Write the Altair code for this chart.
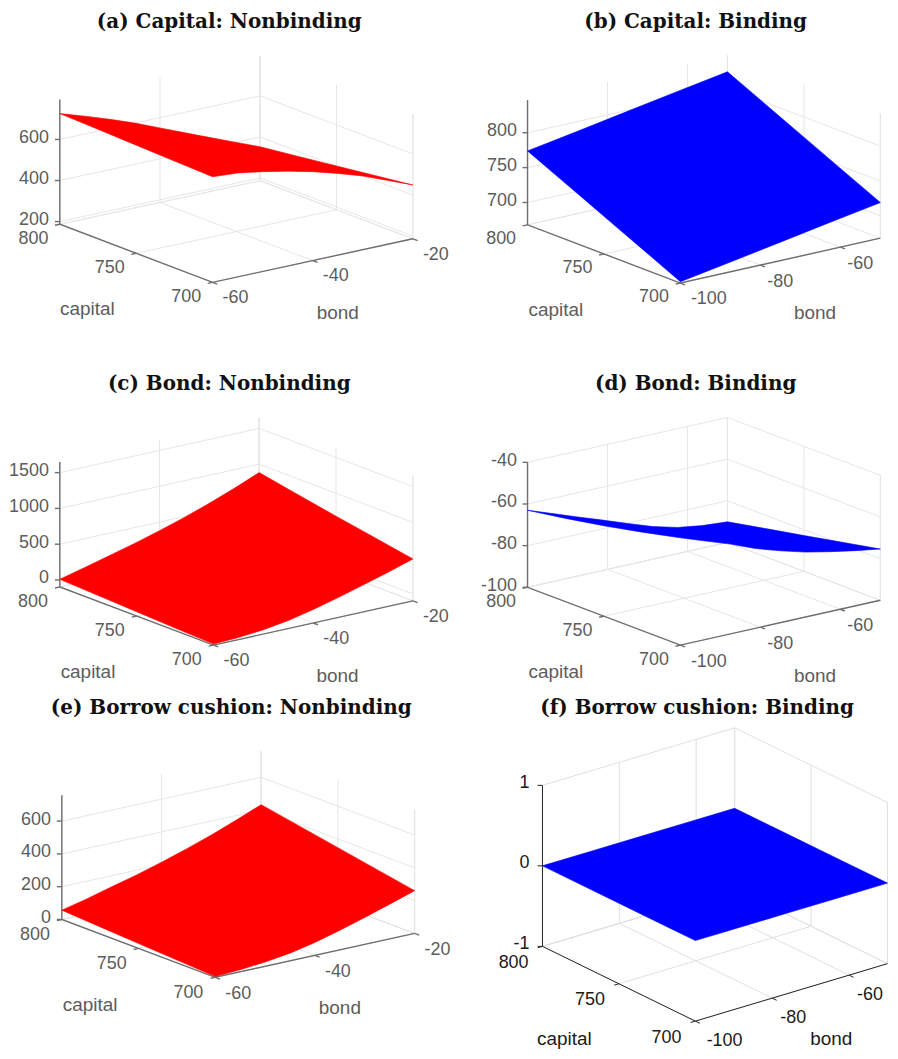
import altair as alt
import pandas as pd

CAPITAL_TICKS = [800, 750, 700]
CAPITAL_SAMPLES = [800, 775, 750, 725, 700]
BOND_A9 = [-60, -55, -50, -45, -40, -35, -30, -25, -20]
BOND_B5 = [-100, -87.5, -75, -62.5, -50]
BOND_B9 = [-100, -93.75, -87.5, -81.25, -75, -68.75, -62.5, -56.25, -50]

# surface heights along the four edges of each panel
a_cap800 = [726, 687, 645, 600, 550, 500, 450, 401, 352]
a_cap700 = [701, 693, 673, 649, 620, 585, 546, 498, 449]
a_bondlo = [726, 720, 713.5, 707, 701]
a_bondhi = [352, 376, 400, 425, 449]

b_cap800 = [774, 786, 798.5, 811, 823]
b_cap700 = [670, 682, 694.5, 707, 719]
b_bondlo = [774, 748, 722, 696, 670]
b_bondhi = [823, 797, 771, 745, 719]

c_cap800 = [9, 97, 187, 279, 379, 488, 608, 739, 882]
c_cap700 = [-83, -67, -37, 15, 91, 181, 280, 379, 488]
c_bondlo = [9, -15, -38, -62, -83]
c_bondhi = [882, 780, 680, 585, 488]

d_cap800 = [-63, -67.3, -71.6, -75.8, -80.1, -84.3, -87.4, -89.2, -90.1]
d_cap700 = [-48.5, -52.7, -56.9, -61.7, -65.5, -68.8, -71.3, -73.5, -75.4]
d_bondlo = [-63, -60, -56.6, -52.7, -48.5]
d_bondhi = [-90.1, -86.4, -82.8, -79.1, -75.4]

e_cap800 = [57, 92, 132, 171, 215, 263, 314, 372, 433]
e_cap700 = [4, 13, 26, 47, 79, 119, 164, 212, 261]
e_bondlo = [57, 43, 30, 17, 4]
e_bondhi = [433, 390, 347, 304, 261]

f_cap800 = [0, 0, 0, 0, 0]
f_cap700 = [0, 0, 0, 0, 0]
f_bondlo = [0, 0, 0, 0, 0]
f_bondhi = [0, 0, 0, 0, 0]

TITLES = ["(a) Capital: Nonbinding", "(b) Capital: Binding", "(c) Bond: Nonbinding",
          "(d) Bond: Binding", "(e) Borrow cushion: Nonbinding", "(f) Borrow cushion: Binding"]

RED, BLUE = "#ff0000", "#0000ff"
GREY_TEXT, GREY_AXIS, GREY_GRID = "#5c5c5c", "#6e6e6e", "#e6e6e6"
DARK_TEXT, DARK_AXIS, DARK_GRID = "#1a1a1a", "#262626", "#e0e0e0"

# view geometry: floor corners on the page, z scale, label offsets
PANELS = [
    dict(L=(59, 222.7), F=(212.3, 281), R=(413.3, 237.3), zf=187, zt=794, pz=0.206,
         zticks=[200, 400, 600], blo=-60, bhi=-20, bticks=[-60, -40, -20],
         bonds=BOND_A9, edges=(a_cap800, a_cap700, a_bondlo, a_bondhi), color=RED,
         cap_off=(-26.5, 15), bond_off=(23, 16), first_dx=0, zgap=11, zdy=-1.5,
         cap_name=(-49, 56), bond_name=(25, 53)),
    dict(L=(528.3, 223.3), F=(681.7, 281.7), R=(882.3, 236.7), zf=668, zt=847, pz=0.7,
         zticks=[700, 750, 800], blo=-100, bhi=-50, bticks=[-100, -80, -60],
         bonds=BOND_B5, edges=(b_cap800, b_cap700, b_bondlo, b_bondhi), color=BLUE,
         cap_off=(-26.5, 14.5), bond_off=(20, 16.5), first_dx=8.5, zgap=10.6, zdy=-1.5,
         cap_name=(-48.3, 56), bond_name=(34.7, 53)),
    dict(L=(59, 585.3), F=(213.3, 643.7), R=(413.3, 599.3), zf=-97, zt=1648, pz=0.0718,
         zticks=[0, 500, 1000, 1500], blo=-60, bhi=-20, bticks=[-60, -40, -20],
         bonds=BOND_A9, edges=(c_cap800, c_cap700, c_bondlo, c_bondhi), color=RED,
         cap_off=(-27, 15), bond_off=(23, 16.3), first_dx=0, zgap=11, zdy=-1.5,
         cap_name=(-48.9, 56.2), bond_name=(24.4, 53.5)),
    dict(L=(528.3, 585.7), F=(681.7, 643.7), R=(882.3, 598.7), zf=-100, zt=-40, pz=2.09,
         zticks=[-100, -80, -60, -40], blo=-100, bhi=-50, bticks=[-100, -80, -60],
         bonds=BOND_B9, edges=(d_cap800, d_cap700, d_bondlo, d_bondhi), color=BLUE,
         cap_off=(-26.5, 15), bond_off=(20, 16.5), first_dx=8.5, zgap=10.6, zdy=-1.5,
         cap_name=(-48.3, 56), bond_name=(34.7, 53.8)),
    dict(L=(61, 918), F=(215, 976), R=(415, 932), zf=0, zt=758, pz=0.1645,
         zticks=[0, 200, 400, 600], blo=-60, bhi=-20, bticks=[-60, -40, -20],
         bonds=BOND_A9, edges=(e_cap800, e_cap700, e_bondlo, e_bondhi), color=RED,
         cap_off=(-27, 15.3), bond_off=(23, 16.5), first_dx=0, zgap=11, zdy=-1.5,
         cap_name=(-48.7, 57), bond_name=(25, 53.3)),
    dict(L=(543.3, 945), F=(696.7, 1020), R=(889.5, 962.3), zf=-1, zt=1, pz=80.8,
         zticks=[-1, 0, 1], blo=-100, bhi=-50, bticks=[-100, -80, -60],
         bonds=BOND_B5, edges=(f_cap800, f_cap700, f_bondlo, f_bondhi), color=BLUE,
         cap_off=(-29, 16.5), bond_off=(21, 20), first_dx=8.3, zgap=13, zdy=-2.5,
         cap_name=(-54.7, 55), bond_name=(40, 47), dark=True),
]

COL_X = [(8, 452), (452, 890)]
ROW_Y = [(29.5, 372.7), (392.2, 696.7), (716.2, 1046)]
TITLE_DX = [-1, 26, -1, 26, 1, 27.5]


def panel_chart(idx, p):
    cmax, cmin = 800, 700
    blo, bhi = p["blo"], p["bhi"]
    L, F, R = p["L"], p["F"], p["R"]

    def proj(c, b, z):
        u = (cmax - c) / (cmax - cmin)
        v = (b - blo) / (bhi - blo)
        x = L[0] + u * (F[0] - L[0]) + v * (R[0] - F[0])
        y = L[1] + u * (F[1] - L[1]) + v * (R[1] - F[1]) - (z - p["zf"]) * p["pz"]
        return x, y

    zf, zt = p["zf"], p["zt"]
    grid, axis = [], []

    def seg(store, pts):
        sid = len(store)
        for i, pt in enumerate(pts):
            x, y = proj(*pt)
            store.append(dict(x=x, y=y, seg=f"{idx}-{sid}", i=i))

    # floor and wall grid
    seg(grid, [(cmax, blo, zf), (cmax, bhi, zf), (cmin, bhi, zf)])
    seg(grid, [(cmax, bhi, zf), (cmax, bhi, zt)])
    seg(grid, [(cmin, bhi, zf), (cmin, bhi, zt)])
    for z in p["zticks"]:
        seg(grid, [(cmax, blo, z), (cmax, bhi, z), (cmin, bhi, z)])
    for b in p["bticks"]:
        seg(grid, [(cmin, b, zf), (cmax, b, zf), (cmax, b, zt)])
    for c in CAPITAL_TICKS:
        seg(grid, [(c, blo, zf), (c, bhi, zf), (c, bhi, zt)])

    # dark axes with ticks
    seg(axis, [(cmax, blo, zt), (cmax, blo, zf), (cmin, blo, zf), (cmin, bhi, zf)])
    du = (F[0] - L[0], F[1] - L[1])
    dv = (R[0] - F[0], R[1] - F[1])
    ulen = (du[0] ** 2 + du[1] ** 2) ** 0.5
    vlen = (dv[0] ** 2 + dv[1] ** 2) ** 0.5
    tick = 5
    for c in CAPITAL_TICKS:
        seg(axis, [(c, blo, zf), (c, blo - tick / vlen * (bhi - blo), zf)])
    for b in p["bticks"]:
        seg(axis, [(cmin, b, zf), (cmin - tick / ulen * (cmax - cmin), b, zf)])
    for z in p["zticks"]:
        x, y = proj(cmax, blo, z)
        axis.append(dict(x=x, y=y, seg=f"{idx}-z{z}", i=0))
        axis.append(dict(x=x - tick, y=y, seg=f"{idx}-z{z}", i=1))

    # surface outline
    z_c800, z_c700, z_blo, z_bhi = p["edges"]
    outline = []
    outline += [(cmax, b, z) for b, z in zip(p["bonds"], z_c800)]
    outline += [(c, bhi, z) for c, z in zip(CAPITAL_SAMPLES, z_bhi)]
    outline += [(cmin, b, z) for b, z in reversed(list(zip(p["bonds"], z_c700)))]
    outline += [(c, blo, z) for c, z in reversed(list(zip(CAPITAL_SAMPLES, z_blo)))]
    surf = []
    for i, pt in enumerate(outline):
        x, y = proj(*pt)
        surf.append(dict(x=x, y=y, i=i))

    # tick labels
    labels = []
    for z in p["zticks"]:
        x, y = proj(cmax, blo, z)
        labels.append(dict(x=x - p["zgap"], y=y + p["zdy"], t=str(z)))
    zlab = pd.DataFrame(labels)
    labels = []
    for c in CAPITAL_TICKS:
        x, y = proj(c, blo, zf)
        labels.append(dict(x=x + p["cap_off"][0], y=y + p["cap_off"][1], t=str(c)))
    for k, b in enumerate(p["bticks"]):
        x, y = proj(cmin, b, zf)
        extra = p["first_dx"] if k == 0 else 0
        labels.append(dict(x=x + p["bond_off"][0] + extra, y=y + p["bond_off"][1], t=str(b)))
    tlab = pd.DataFrame(labels)
    mx, my = proj(750, blo, zf)
    bx, by = proj(cmin, (blo + bhi) / 2, zf)
    names = pd.DataFrame([
        dict(x=mx + p["cap_name"][0], y=my + p["cap_name"][1], t="capital"),
        dict(x=bx + p["bond_name"][0], y=by + p["bond_name"][1], t="bond"),
    ])

    col, row = idx % 2, idx // 2
    x0, x1 = COL_X[col]
    y0, y1 = ROW_Y[row]
    X = alt.X("x:Q", axis=None, scale=alt.Scale(domain=[x0, x1], nice=False, zero=False))
    Y = alt.Y("y:Q", axis=None, scale=alt.Scale(domain=[y1, y0], nice=False, zero=False))

    dark = p.get("dark", False)
    grid_c = DARK_GRID if dark else GREY_GRID
    axis_c = DARK_AXIS if dark else GREY_AXIS
    text_c = DARK_TEXT if dark else GREY_TEXT
    axis_w = 1.0 if dark else 1.4
    font = "Liberation Sans"

    layers = [
        alt.Chart(pd.DataFrame(grid)).mark_line(color=grid_c, strokeWidth=1).encode(
            x=X, y=Y, detail="seg:N", order="i:Q"),
        alt.Chart(pd.DataFrame(axis)).mark_line(color=axis_c, strokeWidth=axis_w).encode(
            x=X, y=Y, detail="seg:N", order="i:Q"),
        alt.Chart(pd.DataFrame(surf)).mark_line(
            fill=p["color"], stroke=p["color"], strokeWidth=0.6, strokeJoin="round").encode(
            x=X, y=Y, order="i:Q"),
        alt.Chart(zlab).mark_text(font=font, fontSize=18, color=text_c, align="right",
                                  baseline="middle").encode(x=X, y=Y, text="t:N"),
        alt.Chart(tlab).mark_text(font=font, fontSize=18, color=text_c, align="center",
                                  baseline="middle").encode(x=X, y=Y, text="t:N"),
        alt.Chart(names).mark_text(font=font, fontSize=19, color=text_c, align="center",
                                   baseline="middle").encode(x=X, y=Y, text="t:N"),
    ]
    return alt.layer(*layers).properties(
        width=x1 - x0,
        height=y1 - y0,
        title=alt.TitleParams(
            TITLES[idx], font="DejaVu Serif", fontWeight="bold", fontSize=20, color="#111111",
            anchor="middle", dx=TITLE_DX[idx], offset=0),
    )


charts = [panel_chart(i, p) for i, p in enumerate(PANELS)]
rows = [alt.hconcat(charts[i], charts[i + 1], spacing=0) for i in (0, 2, 4)]
chart = alt.vconcat(*rows, spacing=0).properties(
    padding={"top": 2, "left": 0, "right": 0, "bottom": 0}).configure_view(stroke=None)
chart.save("out.html", embed_options={"renderer": "svg", "actions": False})
